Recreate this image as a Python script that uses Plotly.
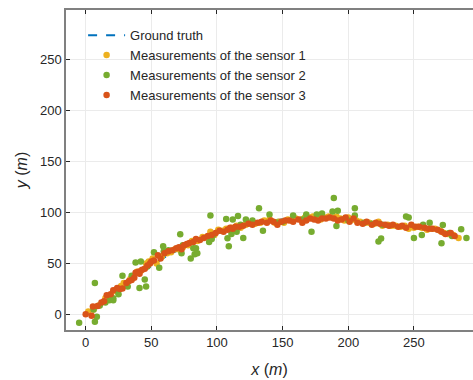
import plotly.graph_objects as go

# Ground truth trajectory
truth_x = [0, 5, 10, 15, 20, 25, 30, 35, 40, 45, 50, 55, 60, 65, 70, 75, 80, 85, 90, 95,
           100, 105, 110, 115, 120, 125, 130, 135, 140, 145, 150, 155, 160, 165, 170, 175,
           180, 185, 190, 195, 200, 205, 210, 215, 220, 225, 230, 235, 240, 245, 250, 255,
           260, 265, 270, 275, 280, 285]
truth_y = [0, 5, 10, 15, 20, 25, 30, 34.5, 39, 43.5, 48, 52, 56, 59.5, 63, 66.5, 70, 73, 76, 78.5,
           81, 83, 85, 86.5, 88, 89, 90, 91, 92, 92.5, 93, 93.5, 94, 94.5, 95, 95,
           95, 95, 95, 94.5, 94, 93, 92, 91, 90, 89, 88, 87.5, 87, 86.5, 86, 85,
           84, 82.5, 81, 79.5, 78, 76]

# Sensor 1 (yellow)
s1_x = [2, 6, 10, 15, 18, 23, 27, 29, 34, 36,
        39, 42, 46, 48, 51, 54, 58, 62, 65, 68,
        72, 74, 78, 81, 85, 89, 92, 95, 98, 101,
        104, 107, 111, 115, 118, 122, 126, 129, 133, 136,
        140, 144, 147, 151, 154, 157, 160, 164, 167, 170,
        173, 176, 179, 182, 185, 188, 191, 194, 197, 200,
        203, 206, 209, 213, 216, 220, 223, 226, 230, 233,
        236, 240, 243, 246, 250, 253, 256, 260, 263, 266,
        270, 273, 276, 280, 284]
s1_y = [3, 5, 9, 16, 18, 23, 28, 31, 35, 37,
        42, 43, 50, 52, 55, 50, 57, 60, 61, 64,
        63, 66, 68, 72, 72, 76, 76, 81, 78, 83,
        82, 84, 85, 87, 85, 88, 90, 89, 90, 92,
        93, 90, 91, 90, 93, 92, 94, 93, 95, 95,
        96, 94, 93, 95, 96, 95, 96, 94, 92, 95,
        93, 92, 91, 90, 90, 89, 91, 87, 88, 87,
        87, 86, 87, 84, 85, 86, 85, 83, 84, 84,
        82, 80, 79, 78, 75]

# Sensor 2 (green)
s2_x = [-5, 6, 7, 7, 8.5, 10.7, 15, 18, 21, 21,
        24.6, 25, 28, 32, 35, 38, 41, 42, 45, 46,
        47, 52, 56, 59, 59.5, 63, 72, 73, 74, 80,
        82, 83, 84, 85, 94, 95, 96, 97, 107, 108,
        109, 111, 112, 115, 116, 118, 120, 122, 127, 132,
        135, 140, 146, 150, 158, 165, 168, 172, 176, 180,
        188, 189, 191, 192, 200, 205, 205, 212, 218, 223,
        225, 226, 244, 246, 250, 256, 257, 262, 271, 272,
        277, 279, 286, 290]
s2_y = [-8, 5, 31, -7, -2, 9, 12, 14, 14, 16,
        23, 20, 38, 27.5, 38, 51, 26, 52, 34.5, 27.5,
        47, 61, 46, 67, 62, 63, 78.6, 60, 68, 55,
        65, 59, 65, 60, 71, 97, 74, 78, 93.6, 74.7,
        67, 79, 93, 81, 96.5, 88, 75, 93, 92, 104,
        82, 98, 90, 91, 97, 93, 98, 81, 98, 99,
        101, 114, 86.7, 101.7, 92, 104, 97, 90, 89, 71.5,
        74.5, 88, 96, 95, 75, 78, 88, 90, 69.8, 87.6,
        80, 77, 83.5, 75]

# Sensor 3 (orange)
s3_x = [0, 4.5, 5.5, 9, 12, 14, 16, 19, 21, 24,
        26, 28, 31, 33, 35, 37, 38, 40, 41, 43,
        45, 47, 49, 50, 52, 55, 57, 60, 63, 66,
        69, 71, 73, 75, 77, 79, 82, 84, 87, 90,
        93, 96, 99, 102, 105, 108, 110, 112, 114, 117,
        120, 124, 127, 131, 134, 138, 141, 143, 146, 149,
        152, 155, 158, 162, 165, 168, 171, 174, 177, 180,
        183, 186, 189, 192, 195, 198, 201, 204, 207, 211,
        214, 218, 221, 224, 228, 231, 234, 238, 241, 244,
        248, 251, 254, 258, 261, 264, 268, 271, 274, 278,
        281]
s3_y = [0.5, -1, 8, 8.5, 12, 13, 19, 20, 24, 26,
        25, 25.5, 31, 33, 34, 36, 41, 42, 40, 44,
        45, 48, 50, 52, 53, 58, 55, 60, 62, 63,
        65, 66, 64, 68, 69, 70, 71, 74, 73, 75,
        77, 78, 80, 82, 81, 83, 85, 84, 86, 86,
        87, 89, 88, 90, 91, 90, 92, 91, 88, 91,
        92, 92, 91, 93, 90, 92, 94, 93, 92, 94,
        94, 95, 94, 92, 93, 95, 91, 94, 90, 89,
        91, 88, 90, 89, 88, 87, 88, 86, 87, 85,
        88, 86, 86, 85, 84, 84, 83, 81, 79, 80,
        77]

x_ticks = [0, 50, 100, 150, 200, 250]
y_ticks = [0, 50, 100, 150, 200, 250]

fig = go.Figure()
fig.add_trace(go.Scatter(x=truth_x, y=truth_y, mode="lines", name="Ground truth",
                         line=dict(color="#0072BD", width=2, dash="dash")))
fig.add_trace(go.Scatter(x=s1_x, y=s1_y, mode="markers", name="Measurements of the sensor 1",
                         marker=dict(color="#EDB120", size=6.5)))
fig.add_trace(go.Scatter(x=s2_x, y=s2_y, mode="markers", name="Measurements of the sensor 2",
                         marker=dict(color="#77AC30", size=6.5)))
fig.add_trace(go.Scatter(x=s3_x, y=s3_y, mode="markers", name="Measurements of the sensor 3",
                         marker=dict(color="#D95319", size=6.5)))

axis_font = dict(family="Liberation Sans, Arial, sans-serif", size=13, color="#262626")
fig.update_layout(
    width=473, height=380,
    margin=dict(l=66, r=0, t=10, b=50),
    paper_bgcolor="white", plot_bgcolor="white",
    font=axis_font,
    showlegend=True,
    legend=dict(x=0.042, y=0.968, xanchor="left", yanchor="top",
                bgcolor="rgba(0,0,0,0)", borderwidth=0,
                font=dict(family="Liberation Sans, Arial, sans-serif", size=13, color="#262626"),
                tracegroupgap=0, itemwidth=37),
    xaxis=dict(range=[-15, 295], tickvals=x_ticks, showgrid=True, gridcolor="#ebebeb",
               zeroline=False, showline=True, linecolor="#808080", linewidth=1.5,
               mirror="ticks", ticks="inside", ticklen=4, tickcolor="#262626",
               title=dict(text="<i>x</i> (<i>m</i>)", standoff=14), tickfont=axis_font),
    yaxis=dict(range=[-15, 298], tickvals=y_ticks, showgrid=True, gridcolor="#ebebeb",
               zeroline=False, showline=True, linecolor="#808080", linewidth=1.5,
               ticks="inside", ticklen=4, tickcolor="#262626",
               title=dict(text="<i>y</i> (<i>m</i>)", standoff=8), tickfont=axis_font),
)

fig.write_html("out.html")
